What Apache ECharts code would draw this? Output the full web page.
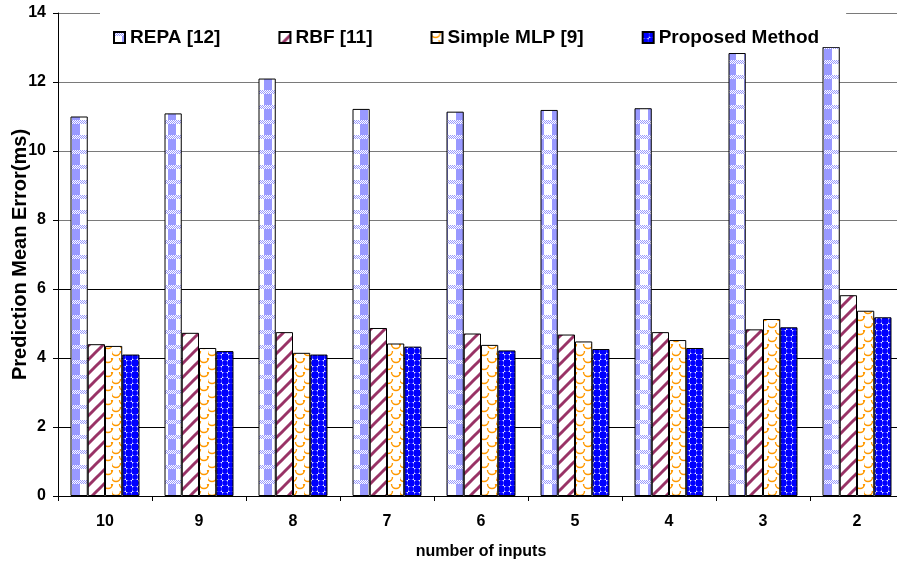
<!DOCTYPE html>
<html>
<head>
<meta charset="utf-8">
<script src="https://cdn.jsdelivr.net/npm/echarts@6/dist/echarts.min.js"></script>
<style>
html,body{margin:0;padding:0;background:#fff;}
#chart{width:897px;height:562px;}
</style>
</head>
<body>
<div id="chart"></div>
<script>
const categories = ['10', '9', '8', '7', '6', '5', '4', '3', '2'];
const seriesNames = ['REPA [12]', 'RBF [11]', 'Simple MLP [9]', 'Proposed Method'];
const repa = [11.00, 11.09, 12.10, 11.22, 11.14, 11.19, 11.24, 12.84, 13.02];
const rbf = [4.40, 4.73, 4.75, 4.87, 4.71, 4.68, 4.75, 4.83, 5.82];
const mlp = [4.35, 4.29, 4.15, 4.42, 4.38, 4.48, 4.52, 5.13, 5.37];
const proposed = [4.10, 4.20, 4.10, 4.33, 4.22, 4.26, 4.29, 4.89, 5.18];
const yMin = 0, yMax = 14, yInterval = 2;
const xAxisName = 'number of inputs';
const yAxisName = 'Prediction Mean Error(ms)';

function mk(w, h) { const c = document.createElement('canvas'); c.width = w; c.height = h; return c; }

function repaPattern() {
  const c = mk(16, 15), g = c.getContext('2d');
  g.fillStyle = '#fff'; g.fillRect(0, 0, 16, 15);
  g.fillStyle = '#9999ff'; g.fillRect(8, 0, 8, 15);
  for (let y = 0; y < 4; y++) for (let x = 0; x < 16; x++) {
    g.fillStyle = ((x + y) % 2 === 0) ? '#9999ff' : '#ffffff';
    g.fillRect(x, y, 1, 1);
  }
  return c;
}
function rbfPattern() {
  const c = mk(14, 14), g = c.getContext('2d');
  g.fillStyle = '#fff'; g.fillRect(0, 0, 14, 14);
  g.strokeStyle = '#993366'; g.lineWidth = 3;
  [[0, 14, 14, 0], [-7, 7, 7, -7], [7, 21, 21, 7]].forEach(l => {
    g.beginPath(); g.moveTo(l[0], l[1]); g.lineTo(l[2], l[3]); g.stroke();
  });
  return c;
}
function mlpPattern() {
  const c = mk(16, 14), g = c.getContext('2d');
  g.fillStyle = '#fff'; g.fillRect(0, 0, 16, 14);
  g.strokeStyle = '#ff9900'; g.lineWidth = 1.4;
  [[4, 1], [12, 8], [-4, 8], [20, 8], [4, 15], [12, -6]].forEach(p => {
    g.beginPath(); g.arc(p[0], p[1], 4.5, 0, Math.PI); g.stroke();
  });
  return c;
}
function propPattern() {
  const c = mk(12, 12), g = c.getContext('2d');
  g.fillStyle = '#0000ff'; g.fillRect(0, 0, 12, 12);
  g.fillStyle = '#ffffff'; g.fillRect(6, 0, 6, 6); g.fillRect(0, 6, 6, 6);
  g.fillStyle = '#0000ff';
  [[9, 3], [3, 9]].forEach(p => { g.beginPath(); g.arc(p[0], p[1], 2.9, 0, Math.PI * 2); g.fill(); });
  return c;
}

const patterns = [repaPattern(), rbfPattern(), mlpPattern(), propPattern()];
const values = [repa, rbf, mlp, proposed];
const FONT = "'Liberation Sans', Arial, Helvetica, sans-serif";

const chart = echarts.init(document.getElementById('chart'), null, { renderer: 'canvas' });
chart.setOption({
  animation: false,
  backgroundColor: '#fff',
  grid: { left: 58, top: 13, width: 846, bottom: 66, containLabel: false, outerBoundsMode: 'none' },
  legend: {
    left: 100, top: 3,
    padding: [25, 27, 0, 13],
    backgroundColor: '#fff',
    itemGap: 58, itemWidth: 11, itemHeight: 11, icon: 'rect',
    textStyle: { fontFamily: FONT, fontWeight: 'bold', fontSize: 19, color: '#000', lineHeight: 14 },
    data: seriesNames
  },
  xAxis: {
    type: 'category', data: categories,
    name: xAxisName, nameLocation: 'middle', nameGap: 48,
    nameTextStyle: { fontFamily: FONT, fontWeight: 'bold', fontSize: 16, color: '#000' },
    axisLine: { lineStyle: { color: '#000', width: 1 } },
    axisTick: { show: true, alignWithLabel: false, length: 5, lineStyle: { color: '#000' } },
    axisLabel: { fontFamily: FONT, fontWeight: 'bold', fontSize: 16, color: '#000', margin: 18 },
    splitLine: { show: false }
  },
  yAxis: {
    type: 'value', min: yMin, max: yMax, interval: yInterval,
    name: yAxisName, nameLocation: 'middle', nameGap: 38, nameRotate: 90, nameMoveOverlap: false,
    nameTextStyle: { fontFamily: FONT, fontWeight: 'bold', fontSize: 20, color: '#000', verticalAlign: 'middle' },
    axisLine: { show: true, lineStyle: { color: '#000', width: 1 } },
    axisTick: { show: true, inside: false, length: 5, lineStyle: { color: '#000' } },
    axisLabel: { fontFamily: FONT, fontWeight: 'bold', fontSize: 16, color: '#000', margin: 12 },
    splitLine: { show: true, lineStyle: { color: ['#000', '#000', '#000', '#000', '#7a7a7a', '#7a7a7a', '#7a7a7a', '#7a7a7a'], width: 1 } }
  },
  series: seriesNames.map((n, i) => ({
    name: n, type: 'bar', data: values[i],
    barGap: '0%', barCategoryGap: '26.6%',
    itemStyle: { color: { image: patterns[i], repeat: 'repeat' }, borderColor: '#000', borderWidth: 1 }
  }))
});
</script>
</body>
</html>
